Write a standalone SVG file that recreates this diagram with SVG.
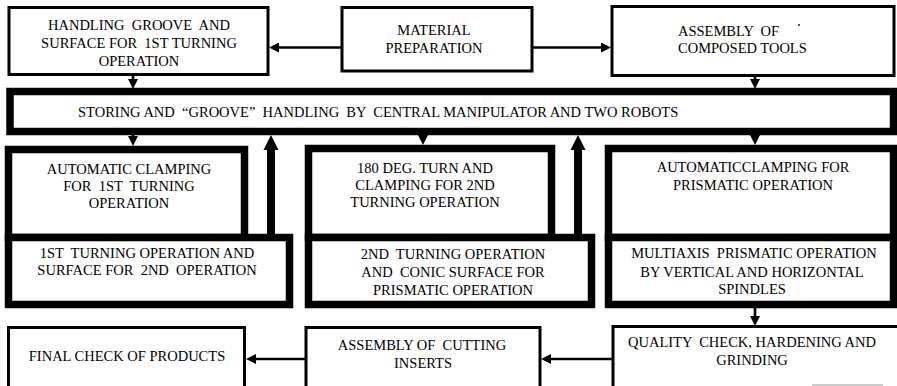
<svg xmlns="http://www.w3.org/2000/svg" width="897" height="386" viewBox="0 0 897 386">
<style>
.thin{fill:#fff;stroke:#000;stroke-width:3}
.thick{fill:#fff;stroke:#000;stroke-width:7.5}
.t{font-size:14.5px;fill:#000;white-space:pre}
.c{text-anchor:middle}
.ln{stroke:#000;stroke-width:2.6;fill:none}
.lt{stroke:#000;stroke-width:8;fill:none}
</style>
<defs>
<marker id="ah" viewBox="0 0 10 10" markerWidth="11" markerHeight="10" refX="0" refY="5" orient="auto" markerUnits="userSpaceOnUse">
<path d="M0,0 L10,5 L0,10 z" fill="#000"/>
</marker>
<marker id="ahT" viewBox="0 0 10 10" markerWidth="15" markerHeight="16" refX="0" refY="5" orient="auto" markerUnits="userSpaceOnUse">
<path d="M0,0 L10,5 L0,10 z" fill="#000"/>
</marker>
</defs>
<rect width="897" height="386" fill="#fff"/>
<g font-family="Liberation Serif, Times New Roman, DejaVu Serif, serif">
<g id="handling-groove">
<rect class="thin" x="9" y="7.5" width="259" height="67"/>
<text class="t c" x="139" y="30">HANDLING  GROOVE  AND</text>
<text class="t c" x="139" y="48">SURFACE FOR  1ST TURNING</text>
<text class="t c" x="139" y="66">OPERATION</text>
</g>
<g id="material-preparation">
<rect class="thin" x="342" y="7.5" width="190" height="63.5"/>
<text class="t c" x="434" y="35">MATERIAL</text>
<text class="t c" x="434" y="53">PREPARATION</text>
</g>
<g id="assembly-composed-tools">
<rect class="thin" x="612" y="6.5" width="282" height="69"/>
<text class="t" x="678" y="36">ASSEMBLY  OF</text>
<text class="t" x="678" y="53">COMPOSED TOOLS</text>
<circle cx="799" cy="25" r="0.9" fill="#000"/>
</g>
<g id="storing-bar">
<rect class="thick" x="10" y="91.5" width="883.5" height="40"/>
<text class="t" x="78" y="117">STORING AND  “GROOVE”  HANDLING  BY  CENTRAL MANIPULATOR AND TWO ROBOTS</text>
</g>
<g id="auto-clamping-1st">
<rect class="thick" x="8.5" y="149.5" width="236" height="88"/>
<text class="t c" x="129" y="174">AUTOMATIC CLAMPING</text>
<text class="t c" x="129" y="191">FOR  1ST  TURNING</text>
<text class="t c" x="129" y="208">OPERATION</text>
</g>
<g id="turning-1st">
<rect class="thick" x="8.5" y="237.5" width="281" height="67"/>
<text class="t c" x="147" y="258">1ST  TURNING OPERATION AND</text>
<text class="t c" x="147" y="275">SURFACE FOR  2ND  OPERATION</text>
</g>
<g id="turn-clamping-2nd">
<rect class="thick" x="308.5" y="148.5" width="243" height="89"/>
<text class="t c" x="425" y="173">180 DEG. TURN AND</text>
<text class="t c" x="425" y="190">CLAMPING FOR 2ND</text>
<text class="t c" x="425" y="207">TURNING OPERATION</text>
</g>
<g id="turning-2nd">
<rect class="thick" x="308.5" y="237.5" width="283" height="67"/>
<text class="t c" x="453" y="259">2ND  TURNING OPERATION</text>
<text class="t c" x="453" y="277">AND  CONIC SURFACE FOR</text>
<text class="t c" x="453" y="295">PRISMATIC OPERATION</text>
</g>
<g id="auto-clamping-prismatic">
<rect class="thick" x="608.5" y="148.5" width="285" height="89"/>
<text class="t c" x="753" y="172">AUTOMATICCLAMPING FOR</text>
<text class="t c" x="753" y="190">PRISMATIC OPERATION</text>
</g>
<g id="multiaxis-prismatic">
<rect class="thick" x="608.5" y="237.5" width="285" height="67"/>
<text class="t c" x="754" y="258">MULTIAXIS  PRISMATIC OPERATION</text>
<text class="t c" x="752" y="277">BY VERTICAL AND HORIZONTAL</text>
<text class="t c" x="752" y="294">SPINDLES</text>
</g>
<g id="final-check">
<rect class="thin" x="8.5" y="327.5" width="236" height="70"/>
<text class="t c" x="127" y="361">FINAL CHECK OF PRODUCTS</text>
</g>
<g id="assembly-cutting-inserts">
<rect class="thin" x="306" y="327.5" width="234" height="70"/>
<text class="t c" x="422" y="350">ASSEMBLY OF  CUTTING</text>
<text class="t c" x="423" y="368">INSERTS</text>
</g>
<g id="quality-check">
<rect class="thin" x="613" y="326.5" width="290" height="70"/>
<text class="t c" x="752" y="347">QUALITY  CHECK, HARDENING AND</text>
<text class="t c" x="752" y="365">GRINDING</text>
<line x1="812" y1="385" x2="883" y2="385" stroke="#bbb" stroke-width="1.5"/>
</g>
</g>
<g id="connectors">
<line class="ln" x1="342" y1="47.5" x2="279" y2="47.5" marker-end="url(#ah)"/>
<line class="ln" x1="532" y1="47.5" x2="601" y2="47.5" marker-end="url(#ah)"/>
<line class="ln" x1="133" y1="76" x2="133" y2="79" marker-end="url(#ah)"/>
<line class="ln" x1="755" y1="76" x2="755" y2="79" marker-end="url(#ah)"/>
<line class="ln" x1="133" y1="134" x2="133" y2="136" marker-end="url(#ah)"/>
<line class="ln" x1="423" y1="134" x2="423" y2="135" marker-end="url(#ah)"/>
<line class="ln" x1="755" y1="134" x2="755" y2="135" marker-end="url(#ah)"/>
<line class="lt" x1="271" y1="235" x2="271" y2="150" marker-end="url(#ahT)"/>
<line class="lt" x1="578" y1="235" x2="578" y2="150" marker-end="url(#ahT)"/>
<line class="ln" x1="755" y1="308" x2="755" y2="316" marker-end="url(#ah)"/>
<line class="ln" x1="612" y1="359" x2="551" y2="359" marker-end="url(#ah)"/>
<line class="ln" x1="305" y1="359" x2="256" y2="359" marker-end="url(#ah)"/>
</g>
</svg>
